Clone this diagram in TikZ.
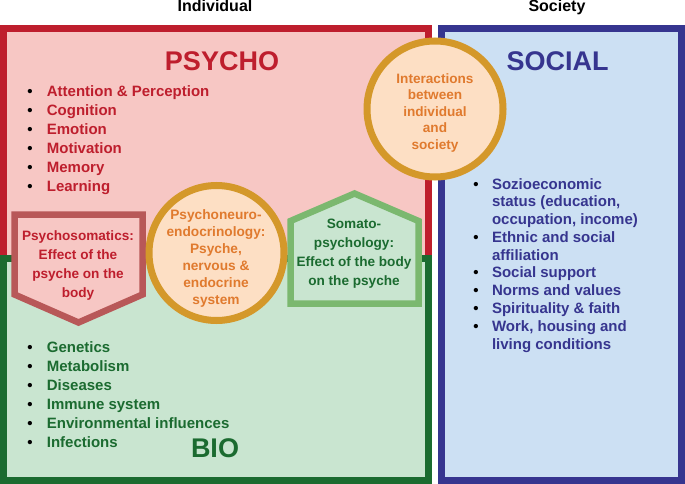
\documentclass[tikz,border=0pt]{standalone}
\usepackage{fontspec}
\setmainfont{Liberation Sans}
\usepackage{array}
\definecolor{psyred}{HTML}{BE1E2D}
\definecolor{psyfill}{HTML}{F7C7C4}
\definecolor{biogreen}{HTML}{1B6B30}
\definecolor{biofill}{HTML}{C9E5D0}
\definecolor{socblue}{HTML}{36358F}
\definecolor{socfill}{HTML}{CCE0F3}
\definecolor{ringgold}{HTML}{D4982A}
\definecolor{ringfill}{HTML}{FDDFC4}
\definecolor{ringtext}{HTML}{E07A2E}
\definecolor{pentred}{HTML}{B85858}
\definecolor{housegreen}{HTML}{7BB86F}
\newcommand\bul{\textcolor{black}{\textbullet}}
\begin{document}
\begin{tikzpicture}[x=1pt,y=-1pt,
  every node/.style={inner sep=0pt, outer sep=0pt},
  bigbox/.style={line width=7pt, line join=miter},
  ring/.style={draw=ringgold, fill=ringfill, line width=7pt},
  heading/.style={anchor=base, font=\bfseries\fontsize{27}{32}\selectfont},
  toptitle/.style={anchor=base, font=\bfseries\fontsize{16}{19}\selectfont},
  listtext/.style={anchor=base west, font=\bfseries\fontsize{15}{19}\selectfont},
  smalltext/.style={anchor=base, font=\bfseries\fontsize{13.6}{19}\selectfont}
]
\useasboundingbox (0,0) rectangle (685,484);
\fill[white] (0,0) rectangle (685,484);
% boxes
\draw[bigbox, draw=psyred, fill=psyfill] (3.5,28.5) rectangle (428,258);
\draw[bigbox, draw=biogreen, fill=biofill] (3.5,258.5) rectangle (428,480);
\draw[bigbox, draw=socblue, fill=socfill] (441.5,28.5) rectangle (681.5,480);
% pentagon arrow
\draw[line width=6.5pt, line join=miter, draw=pentred, fill=psyfill]
  (14.5,214.5) -- (142.5,214.5) -- (142.5,294.5) -- (78.5,322.5) -- (14.5,294.5) -- cycle;
% house
\draw[line width=6.5pt, line join=miter, draw=housegreen, fill=biofill]
  (290.5,303.5) -- (418.5,303.5) -- (418.5,221) -- (354.5,193.5) -- (290.5,221) -- cycle;
% circles
\draw[ring] (435,109) circle[radius=68pt];
\draw[ring] (216.5,253) circle[radius=67.5pt];
% titles
\node[toptitle] (tind) at (215,12) {Individual};
\node[toptitle] (tsoc) at (557,12) {Society};
\node[heading, text=psyred] (hpsy) at (222,70.5) {PSYCHO};
\node[heading, text=socblue] (hsoc) at (557.5,70.5) {SOCIAL};
\node[heading, text=biogreen] (hbio) at (215,457) {BIO};
% lists
\node[listtext, text=psyred] (lpsy) at (27.4,97) {\begin{tabular}[t]{@{}l@{\hspace{14.2pt}}l@{}}
\bul & Attention \& Perception\\
\bul & Cognition\\
\bul & Emotion\\
\bul & Motivation\\
\bul & Memory\\
\bul & Learning
\end{tabular}};
\node[listtext, text=biogreen] (lbio) at (27.4,352) {\begin{tabular}[t]{@{}l@{\hspace{14.2pt}}l@{}}
\bul & Genetics\\
\bul & Metabolism\\
\bul & Diseases\\
\bul & Immune system\\
\bul & Environmental influences\\
\bul & Infections
\end{tabular}};
\node[listtext, text=socblue, font=\bfseries\fontsize{15}{17.8}\selectfont] (lsoc) at (473.4,189) {\begin{tabular}[t]{@{}l@{\hspace{13.4pt}}l@{}}
\bul & Sozioeconomic\\
 & status (education,\\
 & occupation, income)\\
\bul & Ethnic and social\\
 & affiliation\\
\bul & Social support\\
\bul & Norms and values\\
\bul & Spirituality \& faith\\
\bul & Work, housing and\\
 & living conditions
\end{tabular}};
% circle and shape texts
\node[smalltext, text=ringtext, font=\bfseries\fontsize{13.6}{16.5}\selectfont] (tinter) at (435,83.3) {\begin{tabular}[t]{@{}c@{}}
Interactions\\ between\\ individual\\ and\\ society\end{tabular}};
\node[smalltext, text=ringtext, font=\bfseries\fontsize{13.7}{17}\selectfont] (tpne) at (216,219.5) {\begin{tabular}[t]{@{}c@{}}
Psychoneuro-\\ endocrinology:\\ Psyche,\\ nervous \&\\ endocrine\\ system\end{tabular}};
\node[smalltext, text=psyred] (tpsom) at (78,240.7) {\begin{tabular}[t]{@{}c@{}}
Psychosomatics:\\ Effect of the\\ psyche on the\\ body\end{tabular}};
\node[smalltext, text=biogreen] (tsom) at (354,228) {\begin{tabular}[t]{@{}c@{}}
Somato-\\ psychology:\\ Effect of the body\\ on the psyche\end{tabular}};
\end{tikzpicture}
\end{document}
